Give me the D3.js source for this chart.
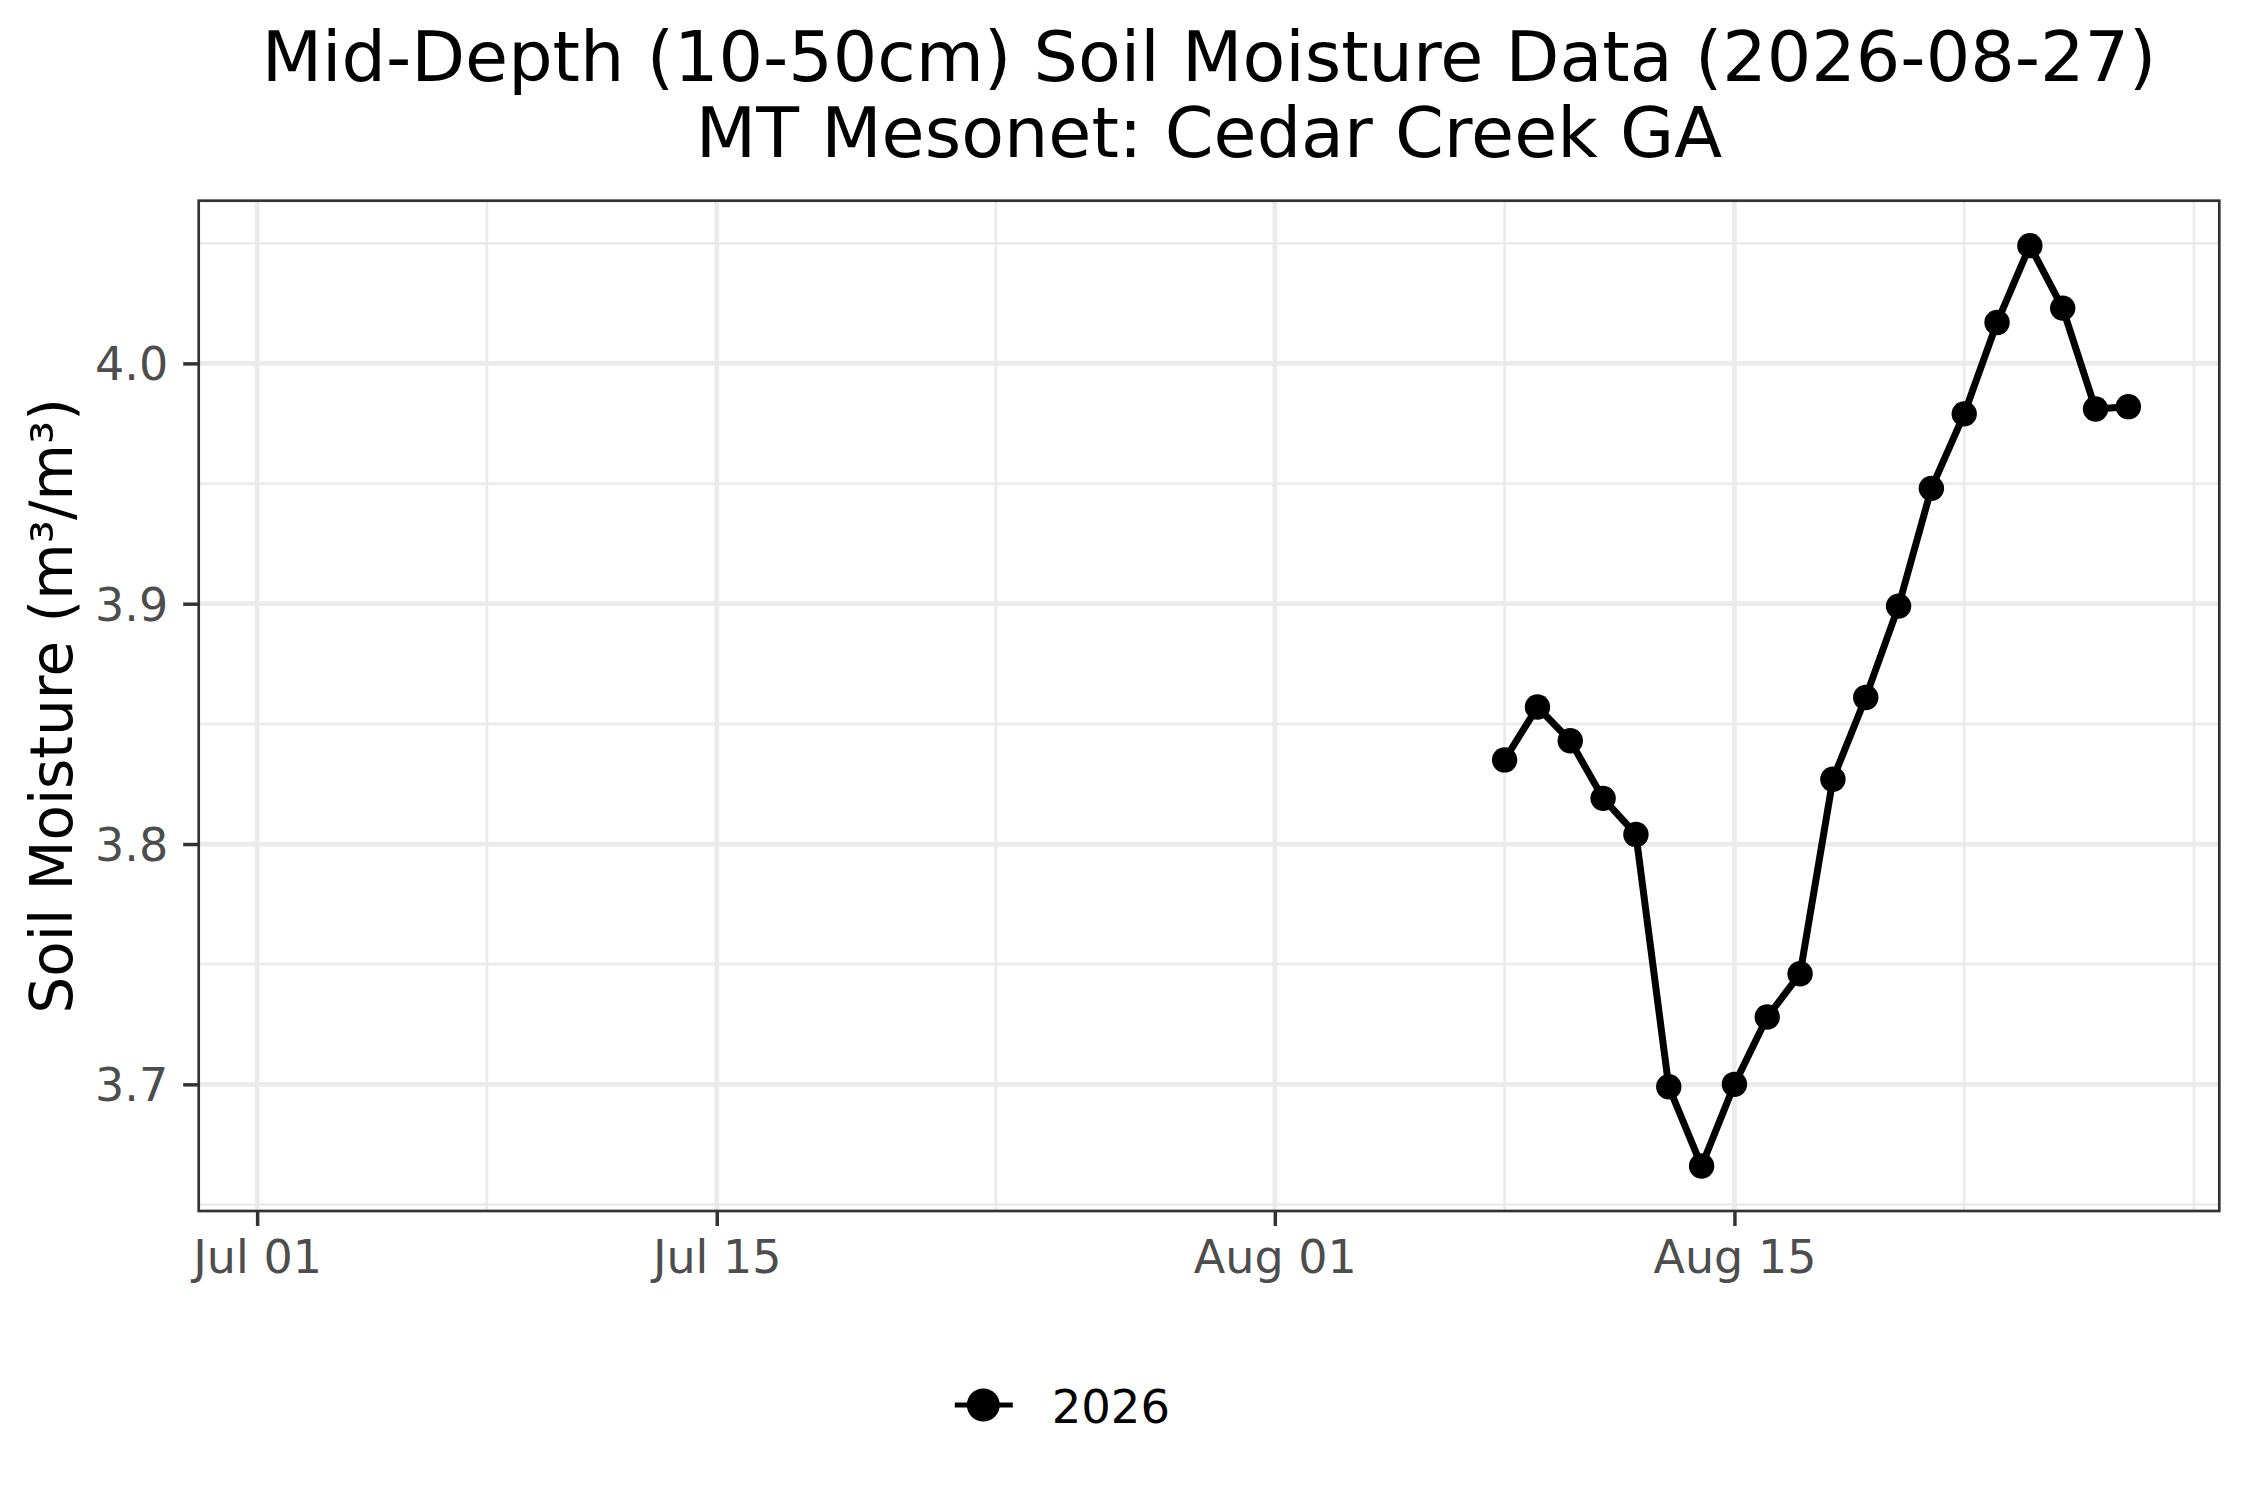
<!DOCTYPE html>
<html lang="en">
    <head>
        <meta charset="utf-8">
        <title>Mid-Depth Soil Moisture</title>
        <script type="text/javascript" src="https://d3js.org/d3.v7.min.js"></script>
        <style type="text/css">
            body {
                margin: 0;
                background: #FFFFFF;
            }
            svg {
                font-family: 'DejaVu Sans', sans-serif;
            }
        </style>
    </head>
    <body>
        <script type="text/javascript">

            // data
            const dates = ["2026-08-08", "2026-08-09", "2026-08-10", "2026-08-11", "2026-08-12",
                           "2026-08-13", "2026-08-14", "2026-08-15", "2026-08-16", "2026-08-17",
                           "2026-08-18", "2026-08-19", "2026-08-20", "2026-08-21", "2026-08-22",
                           "2026-08-23", "2026-08-24", "2026-08-25", "2026-08-26", "2026-08-27"];
            const moisture = [3.835, 3.857, 3.843, 3.819, 3.804,
                              3.699, 3.666, 3.700, 3.728, 3.746,
                              3.827, 3.861, 3.899, 3.948, 3.979,
                              4.017, 4.049, 4.023, 3.981, 3.982];
            const seriesName = "2026";

            const xLimits = ["2026-06-29T05:17:00Z", "2026-08-29T18:29:00Z"];
            const xMajorTicks = ["2026-07-01", "2026-07-15", "2026-08-01", "2026-08-15"];
            const xMinorTicks = ["2026-07-08", "2026-07-23T12:00:00Z", "2026-08-08", "2026-08-22", "2026-08-29"];
            const yLimits = [3.6473, 4.0677];
            const yMajorTicks = [3.7, 3.8, 3.9, 4.0];
            const yMinorTicks = [3.65, 3.75, 3.85, 3.95, 4.05];

            const titleLines = ["Mid-Depth (10-50cm) Soil Moisture Data (2026-08-27)",
                                "MT Mesonet: Cedar Creek GA"];
            const yTitle = "Soil Moisture (m\u00B3/m\u00B3)";

            const parse = s => new Date(s.length === 10 ? s + "T00:00:00Z" : s);

            const W = 2250, H = 1500;
            const margin = {top: 200.7, right: 30.7, bottom: 289, left: 198.7};
            const width = W - margin.left - margin.right,
                  height = H - margin.top - margin.bottom;

            const svg = d3.select("body")
                    .append("svg")
                    .attr("width", W)
                    .attr("height", H);

            svg.append("rect")
               .attr("width", W)
               .attr("height", H)
               .attr("fill", "#FFFFFF");

            const g = svg.append("g")
                    .attr("transform", "translate(" + margin.left + "," + margin.top + ")");

            // scales
            const xScale = d3.scaleUtc()
                        .domain(xLimits.map(parse))
                        .range([0, width]);

            const yScale = d3.scaleLinear()
                        .domain(yLimits)
                        .range([height, 0]);

            // grid lines
            g.selectAll(".vminor")
             .data(xMinorTicks)
             .enter()
             .append("line")
             .attr("x1", d => xScale(parse(d)))
             .attr("x2", d => xScale(parse(d)))
             .attr("y1", 0)
             .attr("y2", height)
             .attr("stroke", "#EBEBEB")
             .attr("stroke-width", 2.7);

            g.selectAll(".hminor")
             .data(yMinorTicks)
             .enter()
             .append("line")
             .attr("x1", 0)
             .attr("x2", width)
             .attr("y1", d => yScale(d))
             .attr("y2", d => yScale(d))
             .attr("stroke", "#EBEBEB")
             .attr("stroke-width", 2.7);

            g.selectAll(".vmajor")
             .data(xMajorTicks)
             .enter()
             .append("line")
             .attr("x1", d => xScale(parse(d)))
             .attr("x2", d => xScale(parse(d)))
             .attr("y1", 0)
             .attr("y2", height)
             .attr("stroke", "#EBEBEB")
             .attr("stroke-width", 4.7);

            g.selectAll(".hmajor")
             .data(yMajorTicks)
             .enter()
             .append("line")
             .attr("x1", 0)
             .attr("x2", width)
             .attr("y1", d => yScale(d))
             .attr("y2", d => yScale(d))
             .attr("stroke", "#EBEBEB")
             .attr("stroke-width", 4.7);

            // line + points
            const points = dates.map((d, i) => ({date: parse(d), value: moisture[i]}));

            const line = d3.line()
                           .x(d => xScale(d.date))
                           .y(d => yScale(d.value));

            g.append("path")
             .datum(points)
             .attr("fill", "none")
             .attr("stroke", "#000000")
             .attr("stroke-width", 7)
             .attr("stroke-linejoin", "round")
             .attr("d", line);

            g.selectAll(".pt")
             .data(points)
             .enter()
             .append("circle")
             .attr("cx", d => xScale(d.date))
             .attr("cy", d => yScale(d.value))
             .attr("r", 12.7)
             .attr("fill", "#000000");

            // panel border
            g.append("rect")
             .attr("width", width)
             .attr("height", height)
             .attr("fill", "none")
             .attr("stroke", "#333333")
             .attr("stroke-width", 2.7);

            // axes
            const xAxis = d3.axisBottom(xScale)
                            .tickValues(xMajorTicks.map(parse))
                            .tickFormat(d3.utcFormat("%b %d"))
                            .tickSize(15)
                            .tickPadding(10);

            const yAxis = d3.axisLeft(yScale)
                            .tickValues(yMajorTicks)
                            .tickFormat(d3.format(".1f"))
                            .tickSize(15.5)
                            .tickPadding(15);

            const gx = g.append("g")
                        .attr("transform", "translate(0," + height + ")")
                        .call(xAxis);

            const gy = g.append("g")
                        .call(yAxis);

            [gx, gy].forEach(a => {
                a.select(".domain").remove();
                a.selectAll(".tick line")
                 .attr("stroke", "#333333")
                 .attr("stroke-width", 3.5);
                a.selectAll(".tick text")
                 .attr("fill", "#4D4D4D")
                 .style("font-size", "46px")
                 .style("font-family", "'DejaVu Sans', sans-serif");
            });

            gx.selectAll(".tick text")
              .attr("dy", null)
              .attr("y", 62.3);

            gy.selectAll(".tick text")
              .attr("dy", "0.36em");

            // titles
            svg.selectAll(".title")
               .data(titleLines)
               .enter()
               .append("text")
               .attr("x", margin.left + width / 2)
               .attr("y", (d, i) => 80.7 + i * 76)
               .attr("text-anchor", "middle")
               .style("font-size", "70px")
               .attr("fill", "#000000")
               .text(d => d);

            svg.append("text")
               .attr("transform", "translate(72," + (margin.top + height / 2) + ") rotate(-90)")
               .attr("text-anchor", "middle")
               .style("font-size", "58px")
               .attr("fill", "#000000")
               .text(yTitle);

            // legend
            const legend = svg.append("g")
                              .attr("transform", "translate(983.3,1405)");

            legend.append("line")
                  .attr("x1", -28.5)
                  .attr("x2", 29.5)
                  .attr("stroke", "#000000")
                  .attr("stroke-width", 5);

            legend.append("circle")
                  .attr("r", 16.5)
                  .attr("fill", "#000000");

            legend.append("text")
                  .attr("x", 68.4)
                  .attr("y", 18.3)
                  .style("font-size", "46.5px")
                  .attr("fill", "#000000")
                  .text(seriesName);

        </script>
    </body>
</html>
